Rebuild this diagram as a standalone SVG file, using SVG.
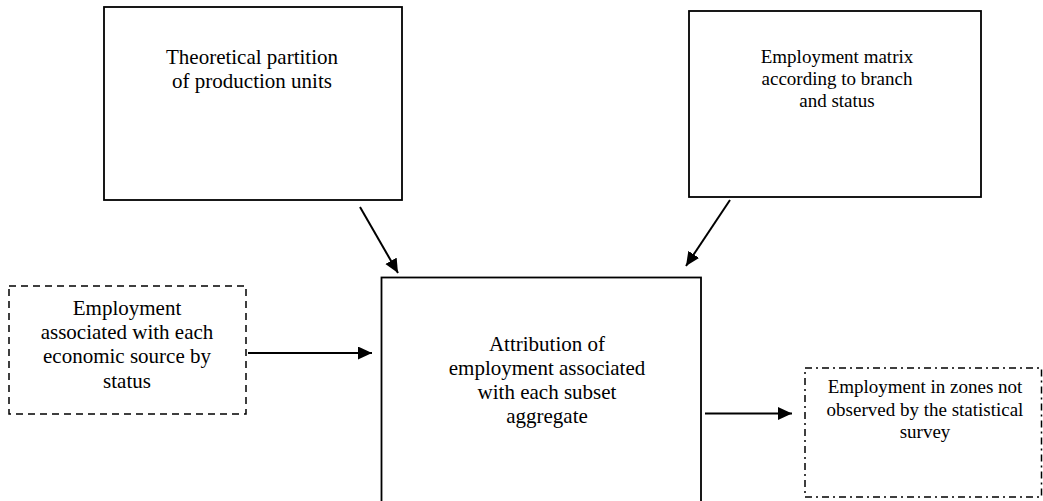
<svg xmlns="http://www.w3.org/2000/svg" width="1043" height="501" viewBox="0 0 1043 501">
<style>
.box{fill:#fff;stroke:#000;stroke-width:1.8}
.dash{fill:#fff;stroke:#000;stroke-width:1.5;stroke-dasharray:7 5}
.dashdot{fill:#fff;stroke:#000;stroke-width:1.5;stroke-dasharray:7 4 2 4}
.t{font-family:"Liberation Serif","Times New Roman",serif;fill:#000;text-anchor:middle}
.t21{font-size:21px}
.t19{font-size:19px}
.c{stroke:#000;stroke-width:2;fill:none;marker-end:url(#ah)}
</style>
<defs>
<marker id="ah" markerUnits="userSpaceOnUse" markerWidth="15" markerHeight="14" refX="14" refY="6.5" orient="auto">
<path d="M0,0 L14,6.5 L0,13 z" fill="#000"/>
</marker>
</defs>
<rect width="1043" height="501" fill="#fff"/>
<g id="n-partition">
<rect class="box" x="104" y="7" width="298" height="193"/>
<text class="t t21" x="252" y="64">Theoretical partition</text>
<text class="t t21" x="252" y="88">of production units</text>
</g>
<g id="n-matrix">
<rect class="box" x="689" y="11" width="292" height="186"/>
<text class="t t19" x="837" y="63">Employment matrix</text>
<text class="t t19" x="837" y="85">according to branch</text>
<text class="t t19" x="837" y="107">and  status</text>
</g>
<g id="n-source">
<rect class="dash" x="9" y="286" width="237" height="128"/>
<text class="t t21" x="127" y="315">Employment</text>
<text class="t t21" x="127" y="339">associated with each</text>
<text class="t t21" x="127" y="363">economic source by</text>
<text class="t t21" x="127" y="388">status</text>
</g>
<g id="n-attribution">
<rect class="box" x="381.5" y="277.5" width="319.5" height="240"/>
<text class="t t21" x="547" y="351">Attribution of</text>
<text class="t t21" x="547" y="375">employment associated</text>
<text class="t t21" x="547" y="399">with each subset</text>
<text class="t t21" x="547" y="423">aggregate</text>
</g>
<g id="n-zones">
<rect class="dashdot" x="805" y="368" width="236.5" height="129"/>
<text class="t t19" x="925" y="393">Employment in zones not</text>
<text class="t t19" x="925" y="416">observed by the statistical</text>
<text class="t t19" x="925" y="438">survey</text>
</g>
<g id="connectors">
<line class="c" x1="360" y1="207" x2="398" y2="273"/>
<line class="c" x1="730" y1="200" x2="686" y2="266"/>
<line class="c" x1="248" y1="353" x2="372" y2="353"/>
<line class="c" x1="705" y1="413.5" x2="792" y2="413.5"/>
</g>
</svg>
